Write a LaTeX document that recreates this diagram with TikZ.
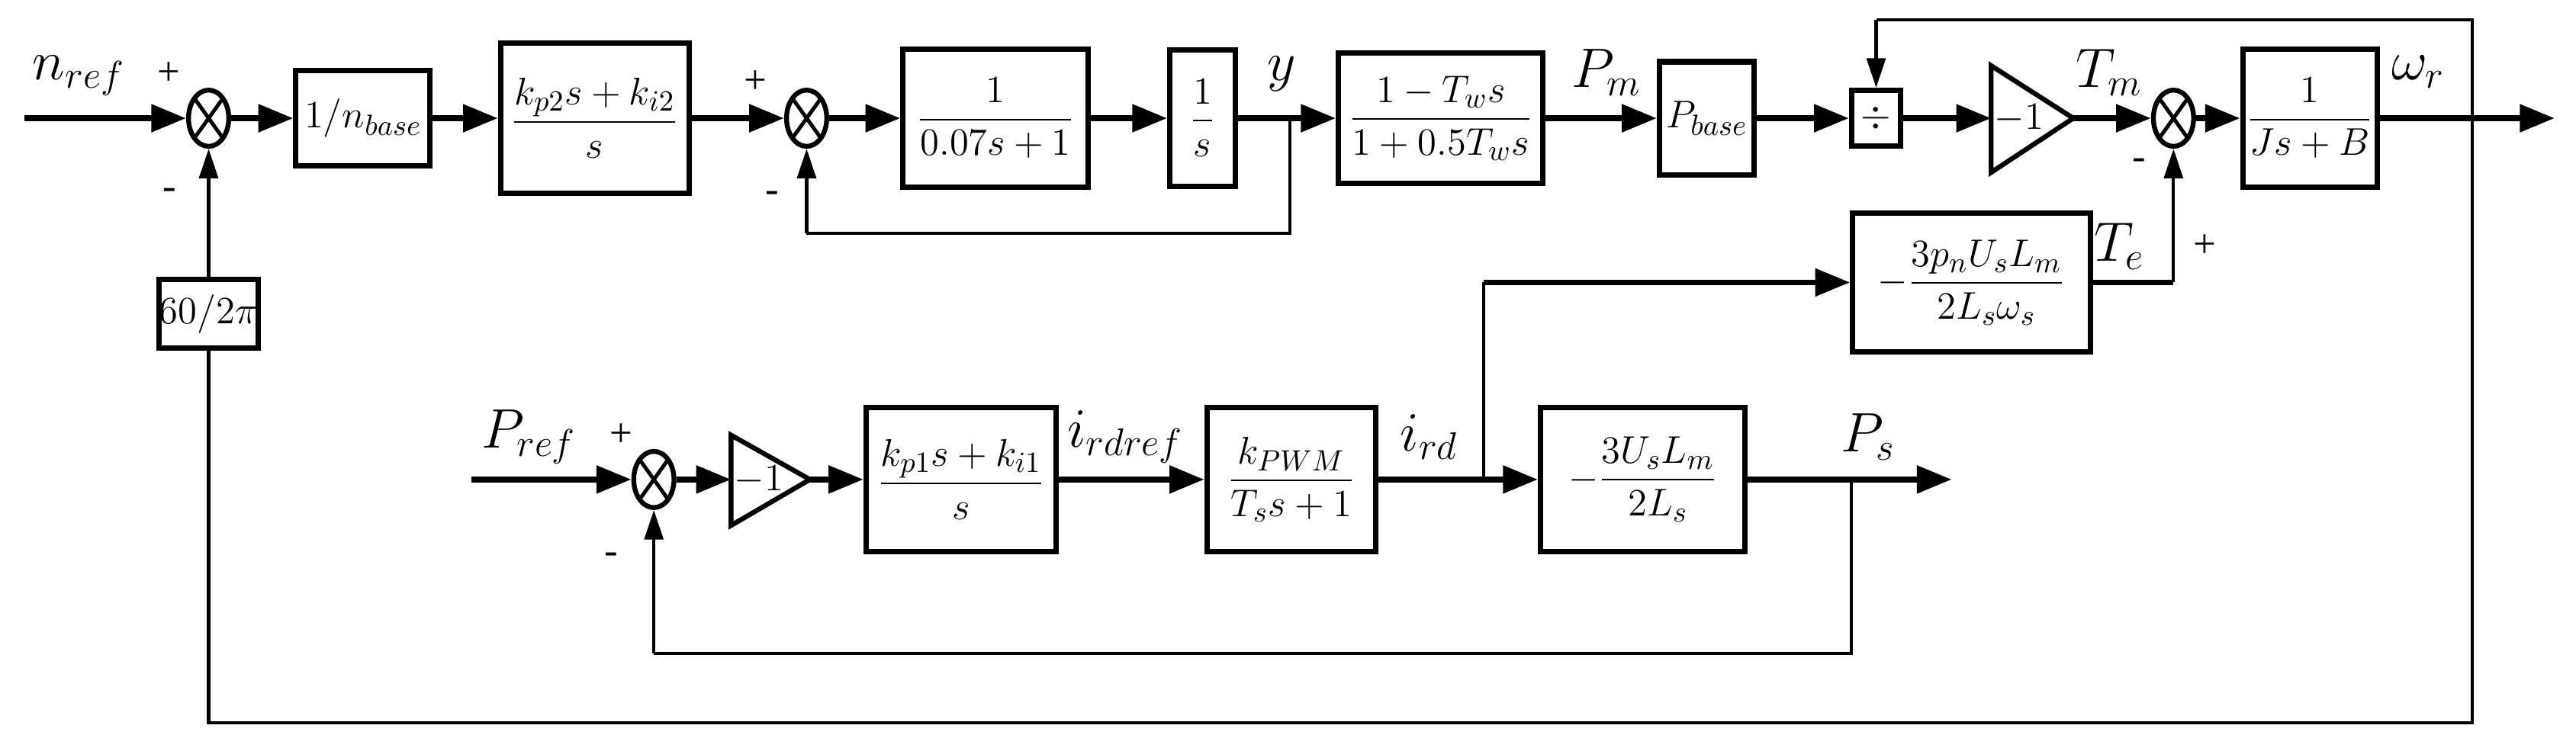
\documentclass[tikz,border=0pt]{standalone}
\usepackage{amsmath}
\usepackage{fontspec}
\setmainfont{Liberation Serif}
\usetikzlibrary{arrows.meta,shapes.geometric}
\begin{document}
\begin{tikzpicture}[x=0.021537cm,y=-0.021537cm,
  sig/.style={line width=2.2pt,-{Triangle[length=13pt,width=10pt]}},
  wire/.style={line width=2.2pt},
  fb/.style={line width=1.2pt},
  fba/.style={line width=1.2pt,-{Triangle[length=11pt,width=7pt]}},
  blk/.style 2 args={draw,line width=2pt,inner sep=0pt,font=\fontsize{15}{18}\selectfont,
     minimum width={#1*0.6105pt},minimum height={#2*0.6105pt}},
  sum/.style={draw,ellipse,line width=1.8pt,minimum width=15pt,minimum height=21pt,inner sep=0pt,
    path picture={\draw[line width=1.4pt] (path picture bounding box.north west)--(path picture bounding box.south east)
      (path picture bounding box.north east)--(path picture bounding box.south west);}},
  lab/.style={font=\fontsize{21}{24}\selectfont},
  sgn/.style={font=\fontsize{15}{18}\selectfont}]
\useasboundingbox (0,0) rectangle (1568,457);
% top row
\coordinate (nin) at (15,72);
\node[sum] (s1) at (127,72) {};
\node[blk={82}{58}] (b1) at (221,72) {$1/n_{base}$};
\node[blk={115}{92}] (b2) at (362,72) {$\dfrac{k_{p2}s+k_{i2}}{s}$};
\node[sum] (s2) at (491,72) {};
\node[blk={113}{84}] (b3) at (606,72) {$\dfrac{1}{0.07s+1}$};
\node[blk={40}{83}] (b4) at (732,72) {$\dfrac{1}{s}$};
\coordinate (yj) at (785,72);
\coordinate (yd) at (785,142);
\coordinate (ydl) at (491,142);
\node[blk={125}{80}] (b5) at (877,72) {$\dfrac{1-T_w s}{1+0.5T_w s}$};
\node[blk={58}{69}] (b6) at (1039,72) {$P_{base}$};
\node[blk={30}{34}] (dv) at (1142,72) {$\div$};
\coordinate (g1a) at (1212,40); \coordinate (g1b) at (1212,105); \coordinate (g1o) at (1262,72);
\coordinate (g1i) at (1212,72);
\draw[line width=1.8pt] (g1a)--(g1o)--(g1b)--cycle;
\node[font=\fontsize{15}{18}\selectfont] (g1t) at (1229,72) {$-1$};
\node[sum] (s3) at (1323,72) {};
\node[blk={82}{84}] (b7) at (1406,72) {$\dfrac{1}{Js+B}$};
\coordinate (wj) at (1505,72);
\coordinate (wout) at (1555,72);
\coordinate (wt) at (1505,12);
\coordinate (dt) at (1142,12);
\coordinate (wb) at (1505,440);
\coordinate (lb) at (127,440);
\node[blk={42}{42}] (b8) at (127,191) {$60/2\pi$};
\node[blk={145}{85}] (b9) at (1200,172) {$-\dfrac{3p_nU_sL_m}{2L_s\omega_s}$};
\coordinate (te) at (1323,172);
% bottom row
\coordinate (pin) at (287,292);
\node[sum] (s4) at (398,292) {};
\coordinate (g2a) at (445,265); \coordinate (g2b) at (445,320); \coordinate (g2o) at (493,292);
\coordinate (g2i) at (445,292);
\draw[line width=1.8pt] (g2a)--(g2o)--(g2b)--cycle;
\node[font=\fontsize{15}{18}\selectfont] (g2t) at (462,292) {$-1$};
\node[blk={116}{88}] (b10) at (585,292) {$\dfrac{k_{p1}s+k_{i1}}{s}$};
\node[blk={103}{88}] (b11) at (786,292) {$\dfrac{k_{PWM}}{T_s s+1}$};
\node[blk={125}{88}] (b12) at (1000,292) {$-\dfrac{3U_sL_m}{2L_s}$};
\coordinate (ij) at (903,292);
\coordinate (iu) at (903,172);
\coordinate (pj) at (1127,292);
\coordinate (pd) at (1127,398);
\coordinate (pdl) at (398,398);
\coordinate (pout) at (1188,292);
% connectors
\draw[sig] (nin)--(s1);
\draw[sig] (s1)--(b1);
\draw[sig] (b1)--(b2);
\draw[sig] (b2)--(s2);
\draw[sig] (s2)--(b3);
\draw[sig] (b3)--(b4);
\draw[wire] (b4.east)--(yj);
\draw[sig] (yj)--(b5);
\draw[fb] (yj)--(yd)--(ydl);
\draw[fba] (ydl)--(s2.south);
\draw[sig] (b5)--(b6);
\draw[sig] (b6)--(dv);
\draw[sig] (dv)--(g1i);
\draw[sig] (g1o)--(s3);
\draw[sig] (s3)--(b7);
\draw[sig] (b7.east)--(wout);
\draw[fb] (wj)--(wt)--(dt);
\draw[fba] (dt)--(dv.north);
\draw[fb] (wj)--(wb)--(lb)--(b8.south);
\draw[fba] (b8.north)--(s1.south);
\draw[wire] (b9.east)--(te);
\draw[fba] (te)--(s3.south);
\draw[sig] (pin)--(s4);
\draw[sig] (s4)--(g2i);
\draw[sig] (g2o)--(b10);
\draw[sig] (b10)--(b11);
\draw[wire] (b11.east)--(ij);
\draw[sig] (ij)--(b12);
\draw[fb] (ij)--(iu);
\draw[sig] (iu)--(b9.west);
\draw[sig] (b12.east)--(pout);
\draw[fb] (pj)--(pd)--(pdl);
\draw[fba] (pdl)--(s4.south);
% labels
\node[lab] at (48,46) {$n_{ref}$};
\node[sgn] at (103,45) {+};
\node[sgn] at (103,118) {-};
\node[sgn] at (460,50) {+};
\node[sgn] at (470,120) {-};
\node[lab] at (780,45) {$y$};
\node[lab] at (978,44) {$P_m$};
\node[lab] at (1284,44) {$T_m$};
\node[sgn] at (1302,100) {-};
\node[sgn] at (1342,150) {+};
\node[lab] at (1472,44) {$\omega_r$};
\node[lab] at (1290,150) {$T_e$};
\node[lab] at (322,266) {$P_{ref}$};
\node[sgn] at (378,265) {+};
\node[sgn] at (372,340) {-};
\node[lab] at (685,266) {$i_{rdref}$};
\node[lab] at (870,266) {$i_{rd}$};
\node[lab] at (1137,266) {$P_s$};
\end{tikzpicture}
\end{document}
